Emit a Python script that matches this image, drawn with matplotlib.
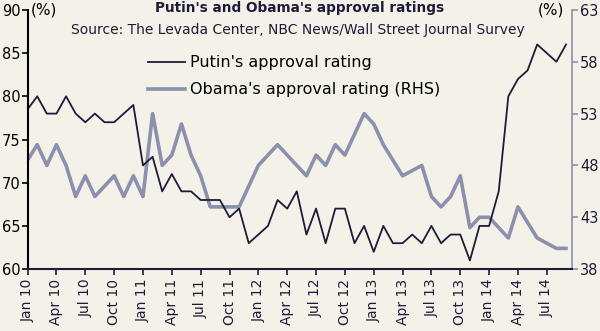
import matplotlib
matplotlib.use("Agg")
import matplotlib.pyplot as plt

# monthly values, Jan 2010 .. Sep 2014
putin = [
    78.5, 80, 78, 78, 80, 78, 77, 78, 77, 77, 78, 79,
    72, 73, 69, 71, 69, 69, 68, 68, 68, 66, 67, 63,
    64, 65, 68, 67, 69, 64, 67, 63, 67, 67, 63, 65,
    62, 65, 63, 63, 64, 63, 65, 63, 64, 64, 61, 65,
    65, 69, 80, 82, 83, 86, 85, 84, 86,
]
obama = [
    48.5, 50, 48, 50, 48, 45, 47, 45, 46, 47, 45, 47,
    45, 53, 48, 49, 52, 49, 47, 44, 44, 44, 44, 46,
    48, 49, 50, 49, 48, 47, 49, 48, 50, 49, 51, 53,
    52, 50, 48.5, 47, 47.5, 48, 45, 44, 45, 47, 42, 43,
    43, 42, 41, 44, 42.5, 41, 40.5, 40, 40,
]
tick_labels = ["Jan 10", "Apr 10", "Jul 10", "Oct 10",
               "Jan 11", "Apr 11", "Jul 11", "Oct 11",
               "Jan 12", "Apr 12", "Jul 12", "Oct 12",
               "Jan 13", "Apr 13", "Jul 13", "Oct 13",
               "Jan 14", "Apr 14", "Jul 14"]
left_ticks = [60, 65, 70, 75, 80, 85, 90]
right_ticks = [38, 43, 48, 53, 58, 63]

bg = "#f4f2e8"
dark = "#1c1c3a"
grey = "#8a90ae"

plt.rcParams["font.family"] = "DejaVu Sans"
plt.rcParams["font.size"] = 9

fig = plt.figure(figsize=(6.0, 3.31), dpi=100, facecolor=bg)
ax = fig.add_axes([0.046, 0.187, 0.907, 0.783])
ax.set_facecolor(bg)
ax2 = ax.twinx()

months = list(range(len(putin)))
l1, = ax.plot(months, putin, color=dark, linewidth=1.3, label="Putin's approval rating")
l2, = ax2.plot(months, obama, color=grey, linewidth=2.6, label="Obama's approval rating (RHS)")
ax.set_zorder(ax2.get_zorder() + 1)
ax.patch.set_visible(False)
ax2.patch.set_visible(True)
ax2.patch.set_facecolor(bg)

ax.set_xlim(0, 56.6)
ax.set_ylim(60, 90)
ax2.set_ylim(38, 63)
ax.set_yticks(left_ticks)
ax2.set_yticks(right_ticks)
ax.set_xticks(range(0, 3 * len(tick_labels), 3))
ax.set_xticklabels(tick_labels, rotation=90)

for a in (ax, ax2):
    a.spines["top"].set_visible(False)
ax.spines["left"].set_color("black")
ax.spines["left"].set_linewidth(1.5)
ax.spines["bottom"].set_color(dark)
ax.spines["bottom"].set_linewidth(1.5)
ax.spines["right"].set_visible(False)
ax2.spines["left"].set_visible(False)
ax2.spines["bottom"].set_visible(False)
ax2.spines["right"].set_color(grey)
ax2.spines["right"].set_linewidth(1.2)

ax.tick_params(axis="y", length=4, width=1.2, pad=1, labelsize=10.5, colors="black")
ax.tick_params(axis="x", length=4, width=1.2, pad=3, labelsize=10, colors=dark)
ax2.tick_params(axis="y", length=4, width=1.2, pad=2, labelsize=10.5, color=grey, labelcolor=dark)

fig.text(0.052, 0.969, "(%)", fontsize=11, va="center", ha="left")
fig.text(0.941, 0.969, "(%)", fontsize=11, va="center", ha="right")
fig.text(0.5, 0.975, "Putin's and Obama's approval ratings", fontsize=9.8,
         fontweight="bold", ha="center", va="center", color=dark)
fig.text(0.497, 0.908, "Source: The Levada Center, NBC News/Wall Street Journal Survey",
         fontsize=10, ha="center", va="center", color=dark)

ax.legend(handles=[l1, l2], loc="upper left", bbox_to_anchor=(0.247, 0.833),
          bbox_transform=fig.transFigure, frameon=False, fontsize=11.5,
          handlelength=2.3, handletextpad=0.3, labelspacing=0.75,
          borderpad=0, borderaxespad=0)

fig.savefig("out.png", dpi=100, facecolor=bg)
